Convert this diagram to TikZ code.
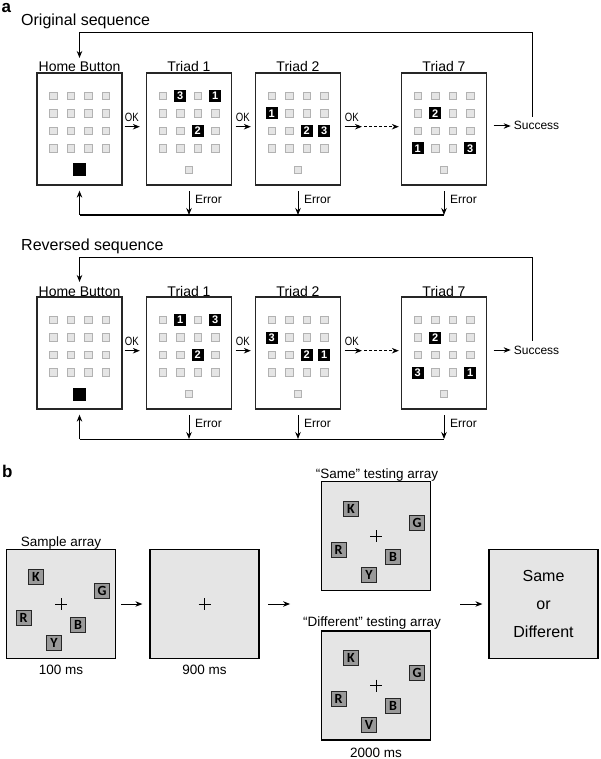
\documentclass[tikz,border=0pt]{standalone}
\usepackage{fontspec}
\setmainfont{Liberation Sans}
\newfontfamily\lettfont{Carlito}
\usetikzlibrary{arrows.meta,calc}
\tikzset{
  panelbox/.style={draw=black!85, line width=1.3pt, minimum width=85pt, minimum height=112pt, inner sep=0pt},
  cell/.style={draw=black!30, fill=black!10, line width=0.7pt, minimum size=7.5pt, inner sep=0pt},
  numcell/.style={fill=black, text=white, minimum size=12pt, inner sep=0pt, font=\fontsize{11}{11}\selectfont\bfseries},
  homebtn/.style={fill=black, minimum size=13pt, inner sep=0pt},
  lab/.style={font=\fontsize{14}{16}\selectfont, inner sep=0pt},
  ttl/.style={font=\fontsize{16}{18}\selectfont, inner sep=0pt},
  small/.style={font=\fontsize{12}{14}\selectfont, inner sep=0pt},
  plet/.style={font=\fontsize{17}{18}\selectfont\bfseries, inner sep=0pt},
  conn/.style={line width=1pt, draw=black},
  arr/.style={line width=1pt, draw=black, -{Stealth[length=7pt,width=5.5pt]}},
  stimbox/.style={draw=black, fill=black!10, line width=1.2pt, minimum size=109pt, inner sep=0pt},
  lett/.style={draw=black!85, fill=black!40, line width=0.9pt, minimum size=15pt, inner sep=0pt, font={\lettfont\bfseries\fontsize{14}{14}\selectfont}},
  crossline/.style={line width=1pt},
  blab/.style={font=\fontsize{13.5}{15}\selectfont, inner sep=0pt},
}
% triad box: name, cx, cy, label
\newcommand\triadbox[4]{%
  \node[panelbox] (#1) at (#2,#3) {};
  \node[lab, anchor=base] (#1-lab) at (#2,#3-57) {#4};
  \foreach \c in {1,...,4}{\foreach \r in {1,...,4}{%
    \node[cell] (#1-c\c\r) at ({#2+(\c-2.5)*17.5},{#3-33+(\r-1)*17.5}) {};}}%
}
\newcommand\numc[4]{\node[numcell] (#1-n#4) at (#1-c#2#3) {#4};}
% sequence panel: prefix, dy, title, X, Y
\newcommand\seqpanel[5]{%
  \node[ttl, anchor=base west] (#1-title) at (21,26+#2) {#3};
  \triadbox{#1-h}{79.5}{129+#2}{Home Button}
  \node[homebtn] (#1-hb) at (79.5,170+#2) {};
  \triadbox{#1-t1}{189}{129+#2}{Triad 1}
  \node[cell] (#1-t1-b) at (189,170+#2) {};
  \triadbox{#1-t2}{298}{129+#2}{Triad 2}
  \node[cell] (#1-t2-b) at (298,170+#2) {};
  \triadbox{#1-t7}{444}{129+#2}{Triad 7}
  \node[cell] (#1-t7-b) at (444,170+#2) {};
  \numc{#1-t1}{2}{1}{#5}\numc{#1-t1}{4}{1}{#4}\numc{#1-t1}{3}{3}{2}
  \numc{#1-t2}{1}{2}{#4}\numc{#1-t2}{3}{3}{2}\numc{#1-t2}{4}{3}{#5}
  \numc{#1-t7}{2}{2}{2}\numc{#1-t7}{1}{4}{#4}\numc{#1-t7}{4}{4}{#5}
  % OK arrows
  \draw[arr] ($(#1-h.east)+(2,-2.3)$) -- ($(#1-t1.west)+(-6,-2.3)$);
  \node[small, anchor=base west] (#1-ok1) at ($(#1-h.east)+(2,-7.5)$) {\scalebox{0.8}[1]{OK}};
  \draw[arr] ($(#1-t1.east)+(3.5,-2.3)$) -- ($(#1-t2.west)+(-4,-2.3)$);
  \node[small, anchor=base west] (#1-ok2) at ($(#1-t1.east)+(3.5,-7.5)$) {\scalebox{0.8}[1]{OK}};
  \coordinate (#1-mid) at (362,126.7+#2);
  \draw[arr] ($(#1-t2.east)+(3.5,-2.3)$) -- (#1-mid);
  \draw[arr, dash pattern=on 3pt off 2pt] ($(#1-mid)+(2,0)$) -- ($(#1-t7.west)+(-2,-2.3)$);
  \node[small, anchor=base west] (#1-ok3) at ($(#1-t2.east)+(3.5,-7.5)$) {\scalebox{0.8}[1]{OK}};
  % success
  \draw[arr] ($(#1-t7.east)+(6.5,-3)$) -- ($(#1-t7.east)+(23.5,-3)$);
  \node[small, anchor=base west] (#1-succ) at ($(#1-t7.east)+(26.5,1)$) {Success};
  \coordinate (#1-looptop) at (532,116.7+#2);
  \coordinate (#1-loopend) at (79.5,58+#2);
  \draw[arr] (#1-looptop) -- (532,33+#2) -| (#1-loopend);
  % error
  \coordinate (#1-bl) at (79.5,215+#2);
  \draw[conn] (#1-bl) -- (444,215+#2);
  \draw[arr] (#1-bl) -- ($(#1-h.south)+(0,5)$);
  \foreach \t in {t1,t2,t7}{%
    \draw[arr] ($(#1-\t.south)+(0,5.5)$) -- (#1-\t.south |- #1-bl);
    \node[small, anchor=base west] (#1-\t-err) at ($(#1-\t.south)+(6,18)$) {Error};}
}
% stimulus array: name, cx, cy, last letter
\newcommand\letarray[4]{%
  \node[stimbox] (#1) at (#2,#3) {};
  \draw[crossline] ($(#1.center)+(-6,0)$) -- ($(#1.center)+(6,0)$) ($(#1.center)+(0,-6)$) -- ($(#1.center)+(0,6)$);
  \node[lett] (#1-K) at ($(#1.center)+(-25,-27.5)$) {K};
  \node[lett] (#1-G) at ($(#1.center)+(41,-13)$) {G};
  \node[lett] (#1-R) at ($(#1.center)+(-37.5,13.5)$) {R};
  \node[lett] (#1-B) at ($(#1.center)+(17,20.5)$) {B};
  \node[lett] (#1-Y) at ($(#1.center)+(-7,39)$) {#4};
}
\begin{document}
\begin{tikzpicture}[x=1pt,y=-1pt]
\useasboundingbox (0,0) rectangle (600,759);
\node[plet, anchor=base west] (la) at (1.5,13) {a};
\seqpanel{o}{0}{Original sequence}{1}{3}
\seqpanel{r}{224}{Reversed sequence}{3}{1}
% panel b
\node[plet, anchor=base west] (lb) at (2,477) {b};
\letarray{samp}{61}{604}{Y}
\node[blab, anchor=base] (samp-lab) at (61,546) {Sample array};
\node[blab, anchor=base] (samp-t) at (61,674) {100 ms};
\node[stimbox] (blank) at (204.5,604) {};
\draw[crossline] ($(blank.center)+(-6,0)$) -- ($(blank.center)+(6,0)$) ($(blank.center)+(0,-6)$) -- ($(blank.center)+(0,6)$);
\node[blab, anchor=base] (blank-t) at (204.5,674) {900 ms};
\letarray{same}{376}{536}{Y}
\node[blab, anchor=base] (same-lab) at (377,478) {“Same” testing array};
\letarray{diff}{376}{685.5}{V}
\node[blab, anchor=base] (diff-lab) at (372,626) {“Different” testing array};
\node[blab, anchor=base] (diff-t) at (376,757) {2000 ms};
\node[stimbox, align=center, font=\fontsize{16}{28}\selectfont] (resp) at (543.5,604) {Same\\or\\Different};
\draw[arr] ($(samp.east)+(5,0)$) -- ($(blank.west)+(-7,0)$);
\draw[arr] ($(blank.east)+(8.5,0)$) -- ($(blank.east)+(30.5,0)$);
\draw[arr] ($(resp.west)+(-28,0)$) -- ($(resp.west)+(-6,0)$);
\end{tikzpicture}
\end{document}
